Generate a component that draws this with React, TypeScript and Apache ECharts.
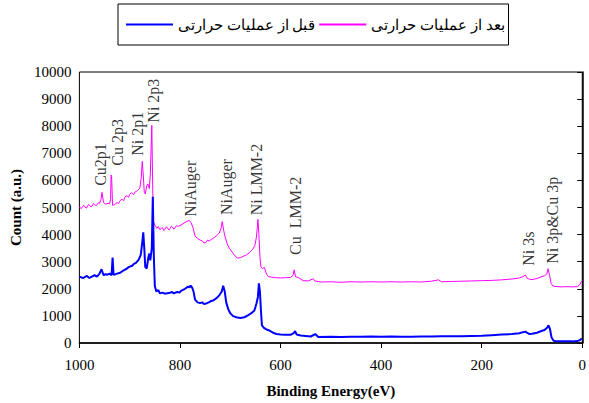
import React, { useEffect, useRef } from "react";
import * as echarts from "echarts";

// Binding energies (eV) and counts – before heat treatment (blue)
const beforeEnergy = [1000, 996, 992, 988, 985, 981, 978, 974, 970, 965, 960, 956, 952, 948, 945, 940, 936, 934, 932, 928, 925, 921, 918, 914, 910, 906, 902, 898, 895, 891, 888, 882, 878, 875, 873, 871, 869, 866, 863, 861, 859, 856, 854, 852, 850, 847, 843, 840, 835, 830, 825, 820, 816, 812, 808, 805, 801, 798, 794, 790, 784, 781, 779, 776, 773, 770, 765, 760, 756, 752, 748, 745, 741, 738, 734, 730, 726, 722, 717, 714, 711, 708, 704, 700, 695, 688, 680, 672, 665, 658, 652, 648, 645, 643, 641, 639, 637, 633, 628, 622, 615, 608, 600, 590, 580, 574, 571, 568, 560, 550, 540, 531, 525, 500, 480, 460, 440, 420, 400, 380, 360, 340, 320, 300, 280, 260, 240, 220, 200, 180, 160, 140, 125, 118, 113, 110, 105, 100, 90, 80, 75, 70, 67, 64, 61, 57, 50, 40, 30, 20, 10, 5, 1, 0];
const beforeCount = [2450, 2420, 2400, 2450, 2470, 2410, 2420, 2460, 2500, 2450, 2560, 2720, 2500, 2540, 2520, 2560, 2500, 3150, 2520, 2540, 2560, 2580, 2600, 2660, 2700, 2740, 2800, 2830, 2850, 2930, 2950, 3080, 3250, 3700, 4080, 3500, 2800, 2750, 3150, 3300, 3050, 3500, 5400, 3200, 2100, 1900, 1950, 1830, 1860, 1820, 1840, 1850, 1880, 1830, 1870, 1880, 1860, 1920, 1960, 2000, 2080, 2050, 2120, 2050, 1900, 1600, 1500, 1470, 1500, 1440, 1460, 1480, 1520, 1550, 1570, 1620, 1680, 1750, 1900, 2110, 1900, 1500, 1250, 1100, 1000, 950, 920, 950, 1020, 1100, 1200, 1450, 1700, 2200, 1900, 1200, 650, 560, 500, 460, 380, 330, 310, 300, 300, 360, 440, 310, 280, 260, 240, 330, 220, 230, 220, 230, 230, 240, 230, 240, 230, 230, 240, 240, 250, 250, 250, 260, 270, 290, 310, 330, 360, 400, 420, 380, 330, 340, 380, 450, 480, 560, 650, 500, 200, 80, 60, 60, 60, 60, 70, 100, 170, 180];

// After heat treatment (magenta)
const afterEnergy = [1000, 997, 995, 992, 990, 987, 985, 982, 980, 977, 975, 972, 970, 967, 965, 962, 960, 957, 955, 952, 948, 943, 940, 938, 937, 936, 934, 930, 927, 925, 922, 920, 917, 915, 912, 910, 907, 905, 902, 900, 897, 895, 892, 890, 885, 880, 877, 875, 873, 871, 869, 866, 864, 861, 859, 856, 854, 853, 850, 846, 843, 840, 837, 835, 832, 830, 827, 825, 822, 820, 817, 815, 812, 810, 807, 805, 800, 794, 788, 782, 778, 774, 770, 765, 760, 755, 752, 748, 745, 742, 738, 735, 731, 728, 722, 718, 716, 713, 710, 706, 702, 696, 690, 685, 680, 674, 668, 662, 656, 651, 648, 646, 645, 643, 641, 639, 636, 632, 628, 624, 618, 610, 600, 590, 580, 575, 573, 570, 565, 555, 545, 535, 532, 520, 500, 480, 460, 440, 420, 400, 380, 360, 340, 320, 300, 286, 280, 260, 240, 220, 200, 180, 160, 140, 125, 118, 113, 110, 105, 100, 90, 80, 75, 70, 68, 65, 62, 58, 50, 40, 30, 20, 10, 5, 2, 0];
const afterCount = [5030, 4960, 4990, 5070, 5060, 4980, 5000, 5110, 5080, 5020, 5050, 5140, 5120, 5060, 5100, 5180, 5150, 5300, 5560, 5180, 5130, 5150, 5140, 5300, 6200, 6150, 5080, 5100, 5160, 5180, 5140, 5230, 5290, 5300, 5250, 5360, 5430, 5420, 5380, 5480, 5540, 5530, 5470, 5560, 5620, 5700, 6100, 6700, 6200, 5560, 5500, 5800, 5870, 5700, 6200, 8030, 5500, 4500, 4350, 4230, 4300, 4180, 4230, 4260, 4150, 4200, 4290, 4250, 4170, 4220, 4310, 4280, 4200, 4250, 4330, 4300, 4330, 4400, 4470, 4520, 4450, 4250, 3950, 3850, 3800, 3760, 3690, 3720, 3800, 3760, 3820, 3850, 3900, 3950, 4050, 4250, 4480, 4150, 3900, 3650, 3500, 3350, 3200, 3130, 3150, 3200, 3250, 3330, 3440, 3600, 3900, 4300, 4560, 4000, 3200, 2800, 2750, 2780, 2550, 2450, 2430, 2410, 2400, 2410, 2420, 2500, 2700, 2440, 2420, 2300, 2290, 2370, 2290, 2250, 2260, 2240, 2260, 2250, 2260, 2250, 2260, 2250, 2260, 2250, 2280, 2330, 2260, 2270, 2280, 2290, 2300, 2310, 2330, 2360, 2400, 2450, 2510, 2400, 2350, 2340, 2380, 2450, 2480, 2560, 2740, 2500, 2200, 2100, 2080, 2070, 2080, 2070, 2080, 2150, 2260, 2300];

// Peak annotations: label, energy (eV), count at the label's foot
const peakNames = ["Cu2p1", "Cu 2p3", "Ni 2p1", "Ni 2p3", "NiAuger", "NiAuger", "Ni LMM-2", "Cu  LMM-2", "Ni 3s", "Ni 3p&Cu 3p"];
const peakEnergy = [958, 924, 884, 853, 779, 708, 648, 570, 107, 59];
const peakLabelBase = [5800, 6545, 6910, 8130, 4660, 4720, 4710, 3250, 2850, 2920];

const beforeName = "قبل از عملیات حرارتی";
const afterName = "بعد از عملیات حرارتی";

const FONT = "Liberation Serif";

export default function App() {
  const ref = useRef<HTMLDivElement>(null);
  useEffect(() => {
    if (!ref.current) return;
    const chart = echarts.init(ref.current, null, { renderer: "svg" });
    const beforeData = beforeEnergy.map((e, i) => [e, beforeCount[i]]);
    const afterData = afterEnergy.map((e, i) => [e, afterCount[i]]);
    const peakData = peakNames.map((n, i) => [peakEnergy[i], peakLabelBase[i], n]);
    chart.setOption({
      animation: false,
      backgroundColor: "#fff",
      textStyle: { fontFamily: FONT, color: "#000" },
      legend: {
        data: [
          { name: beforeName, icon: "rect", itemStyle: { color: "#0000ff" } },
          { name: afterName, icon: "rect", itemStyle: { color: "#ff00ff" } },
        ],
        left: 118,
        top: 4,
        padding: [13, 4, 13, 8],
        itemGap: 4,
        itemWidth: 47,
        itemHeight: 2,
        borderColor: "#000",
        borderWidth: 1,
        textStyle: { fontFamily: FONT, fontSize: 15, color: "#000" },
      },
      grid: {
        left: 77,
        right: 1,
        top: 72,
        bottom: 57,
        show: true,
        borderColor: "#000",
        borderWidth: 1,
      },
      xAxis: {
        type: "value",
        inverse: true,
        min: 0,
        max: 1000,
        interval: 200,
        name: "Binding Energy(eV)",
        nameLocation: "middle",
        nameGap: 40,
        nameTextStyle: { fontFamily: FONT, fontSize: 15, fontWeight: "bold", color: "#000" },
        axisLine: { show: true, onZero: false, lineStyle: { color: "#000", width: 1.5 } },
        axisTick: { show: true, length: 5, lineStyle: { color: "#000" } },
        axisLabel: { fontFamily: FONT, fontSize: 15, color: "#000", margin: 14, formatter: (v: number) => String(v) },
        splitLine: { show: false },
      },
      yAxis: {
        type: "value",
        min: 0,
        max: 10000,
        interval: 1000,
        name: "Count (a.u.)",
        nameLocation: "middle",
        nameGap: 52,
        nameTextStyle: { fontFamily: FONT, fontSize: 15, fontWeight: "bold", color: "#000" },
        axisLine: { show: true, lineStyle: { color: "#000", width: 1.5 } },
        axisTick: { show: true, length: 5, lineStyle: { color: "#000" } },
        axisLabel: { fontFamily: FONT, fontSize: 15, color: "#000", margin: 8, formatter: (v: number) => String(v) },
        splitLine: { show: false },
      },
      series: [
        {
          name: beforeName,
          type: "line",
          data: beforeData,
          symbol: "none",
          lineStyle: { color: "#0000ff", width: 2 },
          itemStyle: { color: "#0000ff" },
          z: 3,
        },
        {
          name: afterName,
          type: "line",
          data: afterData,
          symbol: "none",
          lineStyle: { color: "#ff00ff", width: 1 },
          itemStyle: { color: "#ff00ff" },
          z: 2,
        },
        {
          name: "peaks",
          type: "scatter",
          data: peakData,
          symbolSize: 1,
          itemStyle: { color: "rgba(0,0,0,0)" },
          silent: true,
          label: {
            show: true,
            position: "inside",
            rotate: 90,
            align: "left",
            verticalAlign: "middle",
            fontFamily: FONT,
            fontSize: 16,
            color: "#000",
            formatter: (p: any) => p.data[2],
          },
          z: 4,
        },
      ],
    });
    return () => chart.dispose();
  }, []);
  return (
    <div
      ref={ref}
      style={{ position: "fixed", left: 0, top: 0, width: 589, height: 403, background: "#fff" }}
    />
  );
}
